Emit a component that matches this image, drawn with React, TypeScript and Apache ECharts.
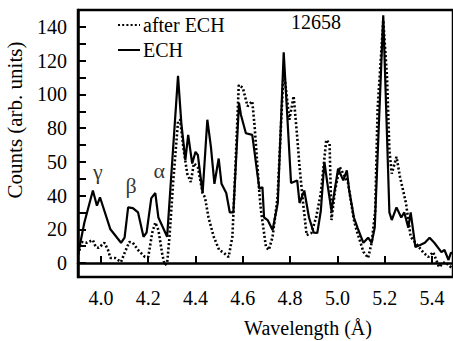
import React, { useEffect, useRef } from "react";
import * as echarts from "echarts";

const echWavelength = [3.903, 3.93, 3.966, 3.983, 3.996, 4.04, 4.085, 4.1, 4.115, 4.135, 4.157, 4.18, 4.193, 4.213, 4.23, 4.243, 4.28, 4.326, 4.34, 4.357, 4.369, 4.386, 4.4, 4.41, 4.43, 4.45, 4.465, 4.48, 4.498, 4.51, 4.53, 4.545, 4.56, 4.584, 4.592, 4.613, 4.64, 4.67, 4.683, 4.69, 4.705, 4.726, 4.748, 4.773, 4.804, 4.83, 4.84, 4.86, 4.88, 4.9, 4.915, 4.93, 4.945, 4.96, 4.975, 5.003, 5.025, 5.04, 5.05, 5.07, 5.085, 5.11, 5.13, 5.145, 5.158, 5.194, 5.22, 5.23, 5.25, 5.27, 5.283, 5.3, 5.31, 5.33, 5.35, 5.37, 5.39, 5.41, 5.44, 5.453, 5.47, 5.48, 5.489];
const echCounts = [5, 24, 43, 34, 39, 20, 12, 15, 33, 32.6, 30, 15.6, 18, 38.5, 41.5, 27, 15.6, 111, 83, 61, 76, 59, 66, 64, 41.5, 85, 69, 47, 62, 47, 41.5, 30, 30, 95, 88, 77, 76, 44, 45, 27, 25.5, 19.6, 35.6, 125, 47.5, 49, 35.6, 43, 27, 18, 17.8, 31, 60, 45, 31, 56, 49, 55, 43, 27, 21, 12, 15, 12, 21, 147, 30, 25.5, 33, 27, 30, 21, 30, 9.5, 10.7, 12, 15, 12, 6.5, 7.7, 1.8, 6, 6];

const afterWavelength = [3.903, 3.92, 3.94, 3.966, 3.978, 3.99, 4.015, 4.03, 4.04, 4.06, 4.085, 4.1, 4.12, 4.135, 4.157, 4.186, 4.2, 4.217, 4.23, 4.243, 4.26, 4.27, 4.28, 4.29, 4.306, 4.326, 4.335, 4.35, 4.365, 4.38, 4.393, 4.41, 4.43, 4.44, 4.455, 4.477, 4.5, 4.52, 4.54, 4.556, 4.57, 4.583, 4.6, 4.62, 4.64, 4.65, 4.67, 4.677, 4.698, 4.71, 4.726, 4.747, 4.773, 4.797, 4.815, 4.83, 4.84, 4.855, 4.87, 4.89, 4.91, 4.93, 4.953, 4.967, 4.975, 4.99, 5.01, 5.045, 5.07, 5.08, 5.11, 5.13, 5.145, 5.16, 5.17, 5.194, 5.21, 5.22, 5.23, 5.25, 5.265, 5.29, 5.31, 5.33, 5.365, 5.385, 5.405, 5.43, 5.455, 5.485];
const afterCounts = [5, 12.5, 12, 13.6, 9.5, 9, 12, 7.7, 3, 3, 0.6, 6, 12.5, 12, 7.7, 3.6, 3.6, 18, 24, 19.6, 4.7, -1.2, 0, 15.6, 49, 84, 85, 67, 53, 48, 59, 57, 41.5, 39, 27, 15.6, 7.7, 6, 3.6, 15.6, 61, 105.6, 104, 93, 96, 81, 41.5, 31, 9.5, 7.7, 15.6, 39, 115, 85, 99, 75, 57, 35.6, 16.6, 17.8, 27, 41.5, 73, 71, 25.5, 43, 57, 47.5, 25.5, 20, 6.7, 3, 12, 31, 91, 144, 110, 67, 53, 63, 51, 35.6, 15.6, 12, 6, 3.6, 6.5, -2.4, 0.6, -3];

const xTicks = [4.0, 4.2, 4.4, 4.6, 4.8, 5.0, 5.2, 5.4];
const yMinorTicks = [0, 10, 20, 30, 40, 50, 60, 70, 80, 90, 100, 110, 120, 130, 140];
const yTickValues = [0, 20, 40, 60, 80, 100, 120, 140];
const yTickLabels = ["0", "20", "40", "50", "80", "100", "120", "140"];

const lineLabels = ["γ", "β", "α"];
const lineLabelX = [3.987, 4.128, 4.247];
const lineLabelY = [54, 46, 55];

const FONT = "'Liberation Serif', 'Times New Roman', serif";

export default function App() {
  const ref = useRef<HTMLDivElement>(null);
  useEffect(() => {
    if (!ref.current) return;
    const chart = echarts.init(ref.current, undefined, { renderer: "svg" });
    const ech = echWavelength.map((x, i) => [x, echCounts[i]]);
    const after = afterWavelength.map((x, i) => [x, afterCounts[i]]);
    const ann = lineLabels.map((t, i) => [lineLabelX[i], lineLabelY[i], t]);
    chart.setOption({
      animation: false,
      backgroundColor: "#fff",
      textStyle: { fontFamily: FONT, color: "#000" },
      grid: {
        left: 78,
        right: 0,
        top: 10,
        bottom: 64,
        show: true,
        borderColor: "#000",
        borderWidth: 2.5,
      },
      legend: {
        left: 112,
        top: 10,
        orient: "vertical",
        itemWidth: 22,
        itemHeight: 14,
        itemGap: 5,
        data: ["after ECH", "ECH"],
        itemStyle: { opacity: 0 },
        textStyle: { fontFamily: FONT, fontSize: 20, color: "#000", padding: [0, 0, 0, -2] },
      },
      xAxis: {
        type: "value",
        min: 3.903,
        max: 5.489,
        axisLine: { show: true, lineStyle: { color: "#000", width: 2.5 } },
        splitLine: { show: false },
        axisTick: {
          show: true,
          inside: true,
          length: 7,
          lineStyle: { color: "#000", width: 2 },
          customValues: xTicks,
        },
        axisLabel: {
          customValues: xTicks,
          formatter: (v: number) => v.toFixed(1),
          fontFamily: FONT,
          fontSize: 20,
          color: "#000",
          margin: 11,
        },
      },
      yAxis: {
        type: "value",
        min: -8.3,
        max: 150.1,
        axisLine: { show: true, lineStyle: { color: "#000", width: 2.5 } },
        splitLine: { show: false },
        axisTick: {
          show: true,
          inside: true,
          length: 8,
          lineStyle: { color: "#000", width: 2 },
          customValues: yMinorTicks,
        },
        axisLabel: {
          customValues: yTickValues,
          formatter: (v: number) => yTickLabels[yTickValues.indexOf(Math.round(v))] ?? "",
          fontFamily: FONT,
          fontSize: 20,
          color: "#000",
          margin: 11,
        },
      },
      series: [
        {
          name: "after ECH",
          type: "line",
          data: after,
          symbol: "none",
          color: "#000",
          lineStyle: { color: "#000", width: 2.6, type: [2, 2.2], cap: "butt" },
        },
        {
          name: "ECH",
          type: "line",
          data: ech,
          symbol: "none",
          color: "#000",
          lineStyle: { color: "#000", width: 2.2, type: "solid" },
        },
        {
          name: "labels",
          type: "scatter",
          data: ann,
          symbolSize: 0,
          silent: true,
          itemStyle: { color: "#000" },
          label: {
            show: true,
            position: "inside",
            formatter: (p: any) => p.value[2],
            fontFamily: FONT,
            fontSize: 22,
            color: "#000",
            textBorderWidth: 0,
          },
        },
      ],
      graphic: [
        {
          type: "text",
          left: 291,
          top: 12,
          style: { text: "12658", font: `20px 'Liberation Serif'`, fill: "#000" },
        },
        {
          type: "text",
          x: 308,
          y: 328,
          style: {
            text: "Wavelength (Å)",
            font: `20px 'Liberation Serif'`,
            fill: "#000",
            align: "center",
            verticalAlign: "middle",
          },
        },
        {
          type: "text",
          x: 15,
          y: 120,
          rotation: Math.PI / 2,
          style: {
            text: "Counts (arb. units)",
            font: `21px 'Liberation Serif'`,
            fill: "#000",
            align: "center",
            verticalAlign: "middle",
          },
        },
      ],
    });
    return () => chart.dispose();
  }, []);
  return <div ref={ref} style={{ width: 453, height: 341, position: "fixed", left: 0, top: 0 }} />;
}
